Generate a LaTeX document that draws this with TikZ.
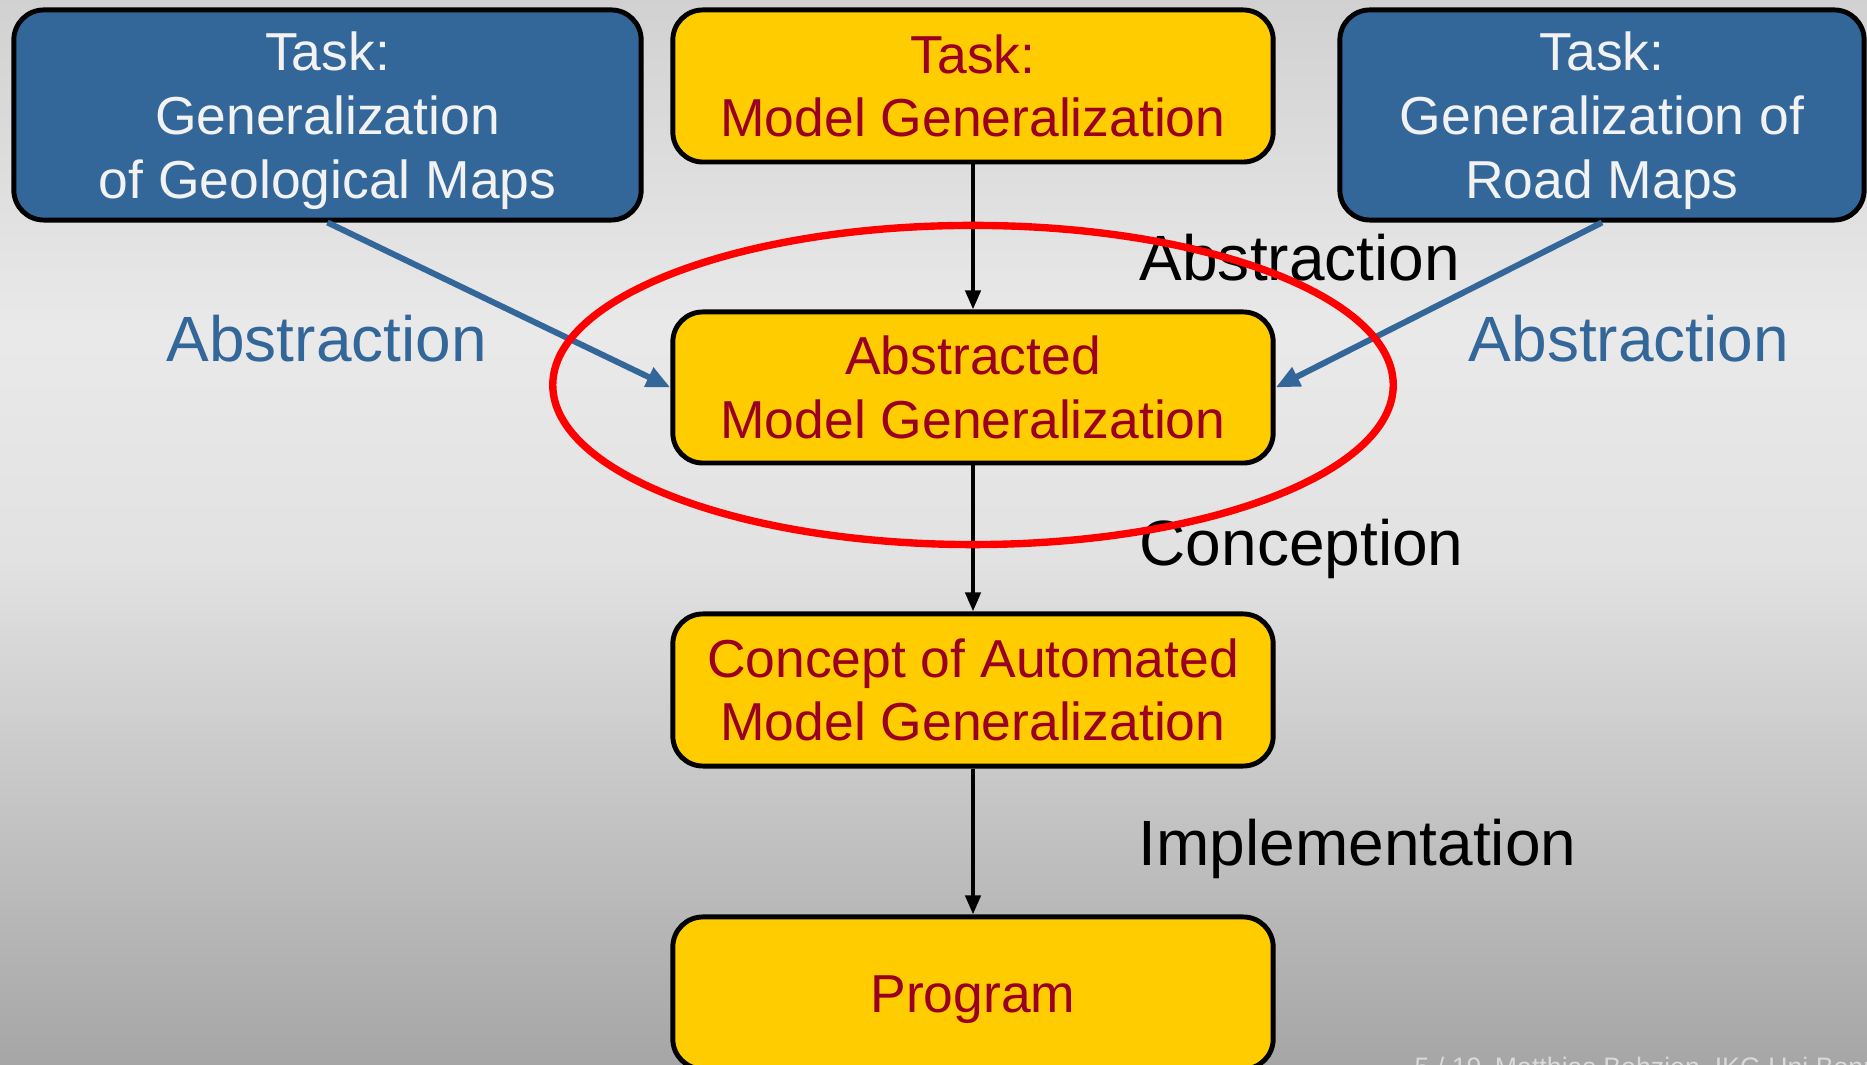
\documentclass[tikz,border=0pt]{standalone}
\usepackage{fontspec}
\setmainfont{Liberation Sans}
\usetikzlibrary{arrows.meta}

\definecolor{slideblue}{HTML}{336699}
\definecolor{boxyellow}{HTML}{FFCC00}
\definecolor{boxred}{HTML}{990022}
\definecolor{boxwhite}{HTML}{F2F2F2}
\definecolor{footgray}{HTML}{DADADA}

\newcommand{\boxfont}{\fontsize{15.2pt}{18.1pt}\selectfont}
\newcommand{\labelfont}{\fontsize{18.2pt}{22pt}\selectfont}
% a taller first line lowers the centred text block a little
\newcommand{\lowerstrut}{\rule{0pt}{14.3pt}}

\tikzset{
  stepbox/.style={draw=black, line width=1.4pt, rounded corners=0.3cm,
    minimum width=6cm, minimum height=1.51cm, align=center,
    inner sep=0pt, font=\boxfont},
  yellowbox/.style={stepbox, fill=boxyellow, text=boxred},
  bluebox/.style={stepbox, fill=slideblue, text=boxwhite, minimum height=2.1cm},
  flowarrow/.style={draw=black, line width=1.2pt,
    -{Triangle[length=0.19cm, width=0.15cm]}},
  abstractarrow/.style={draw=slideblue, line width=1.7pt,
    -{Triangle[length=0.24cm, width=0.2cm]}},
  steplabel/.style={anchor=base west, inner sep=0pt, font=\labelfont},
}

\begin{document}
\begin{tikzpicture}[x=0.01cm, y=-0.01cm]
  \useasboundingbox (0,0) rectangle (1867,1065);
  \clip (0,0) rectangle (1867,1065);

  % slide background: light band across the upper middle, darker towards the foot
  \shade[top color=black!18, bottom color=black!8.5] (0,0) rectangle (1867,331);
  \shade[top color=black!8.5, bottom color=black!11.5] (0,330) rectangle (1867,561);
  \shade[top color=black!11.5, bottom color=black!35] (0,560) rectangle (1867,1065);

  % task boxes
  \node[bluebox, minimum width=6.27cm] (geo) at (327.5,115)
    {\lowerstrut Task:\\Generalization\\of Geological Maps};
  \node[yellowbox, minimum height=1.52cm] (task) at (973,86)
    {Task:\\Model Generalization};
  \node[bluebox, minimum width=5.24cm] (road) at (1602,115)
    {\lowerstrut Task:\\Generalization of\\Road Maps};

  % chain from the abstracted task down to the program
  \node[yellowbox] (abs) at (973,387.5) {Abstracted\\Model Generalization};
  \node[yellowbox, minimum height=1.52cm] (concept) at (973,690)
    {Concept of Automated\\Model Generalization};
  \node[yellowbox, minimum height=1.52cm] (program) at (973,993)
    {\lowerstrut Program};

  % connectors
  \draw[flowarrow] (task) -- (abs);
  \draw[flowarrow] (abs) -- (concept);
  \draw[flowarrow] (concept) -- (program);
  \draw[abstractarrow] (geo.south) -- (abs.west);
  \draw[abstractarrow] (road.south) -- (abs.east);

  % step labels
  \node[steplabel] (labAbs) at (1139,281) {Abstraction};
  \node[steplabel] (labCon) at (1139,566) {Conception};
  \node[steplabel] (labImp) at (1138,866) {Implementation};
  \node[steplabel, text=slideblue] (labGeo) at (166,362) {Abstraction};
  \node[steplabel, text=slideblue] (labRoad) at (1468,362) {Abstraction};

  % highlight around the abstracted task
  \draw[red, line width=2.1pt] (973,385) ellipse [x radius=4.2cm, y radius=1.595cm];

  % slide footer
  \node[anchor=base west, inner sep=0pt, text=footgray,
        font=\fontsize{7.6pt}{9pt}\selectfont] (footer) at (1414,1077)
    {5 / 19\enspace Matthias Behzien, IKG Uni Bonn};
\end{tikzpicture}
\end{document}
